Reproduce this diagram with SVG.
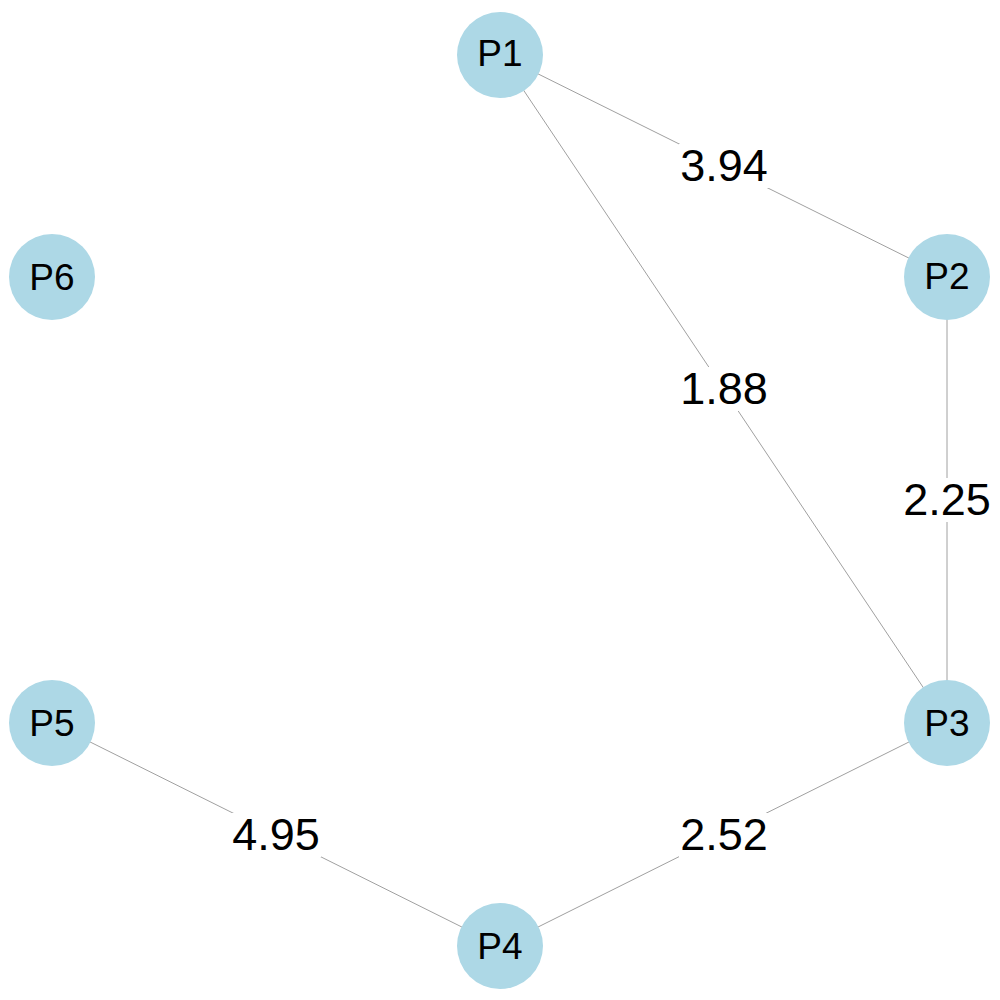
<svg xmlns="http://www.w3.org/2000/svg" width="1000" height="1000" viewBox="0 0 1000 1000">
<style>
.edge{stroke:#a0a0a0;stroke-width:1;fill:none}
.node circle{fill:#add8e6}
.node text{font-family:"Liberation Sans",Arial,sans-serif;font-size:37px;fill:#000;text-anchor:middle;dominant-baseline:central}
.lbl rect{fill:#fff}
.lbl text{font-family:"Liberation Sans",Arial,sans-serif;font-size:45px;fill:#000;text-anchor:middle;dominant-baseline:central}
</style>
<rect width="1000" height="1000" fill="#fff"/>
<g id="edges">
<line class="edge" x1="500" y1="55" x2="947" y2="277"/>
<line class="edge" x1="500" y1="55" x2="947" y2="723"/>
<line class="edge" x1="947" y1="277" x2="947" y2="723"/>
<line class="edge" x1="947" y1="723" x2="500" y2="946"/>
<line class="edge" x1="500" y1="946" x2="52" y2="723"/>
<g class="lbl"><rect x="679" y="144" width="90" height="44"/><text x="724" y="165">3.94</text></g>
<g class="lbl"><rect x="679" y="367" width="90" height="44"/><text x="724" y="388">1.88</text></g>
<g class="lbl"><rect x="902" y="478" width="90" height="44"/><text x="947" y="499">2.25</text></g>
<g class="lbl"><rect x="679" y="813" width="90" height="44"/><text x="724" y="834">2.52</text></g>
<g class="lbl"><rect x="231" y="813" width="90" height="44"/><text x="276" y="834">4.95</text></g>
</g>
<g id="P1" class="node"><circle cx="500" cy="55" r="43"/><text x="500" y="53">P1</text></g>
<g id="P2" class="node"><circle cx="947" cy="277" r="43"/><text x="947" y="276">P2</text></g>
<g id="P3" class="node"><circle cx="947" cy="723" r="43"/><text x="947" y="723">P3</text></g>
<g id="P4" class="node"><circle cx="500" cy="946" r="43"/><text x="500" y="946">P4</text></g>
<g id="P5" class="node"><circle cx="52" cy="723" r="43"/><text x="52" y="723">P5</text></g>
<g id="P6" class="node"><circle cx="52" cy="277" r="43"/><text x="52" y="277">P6</text></g>
</svg>
